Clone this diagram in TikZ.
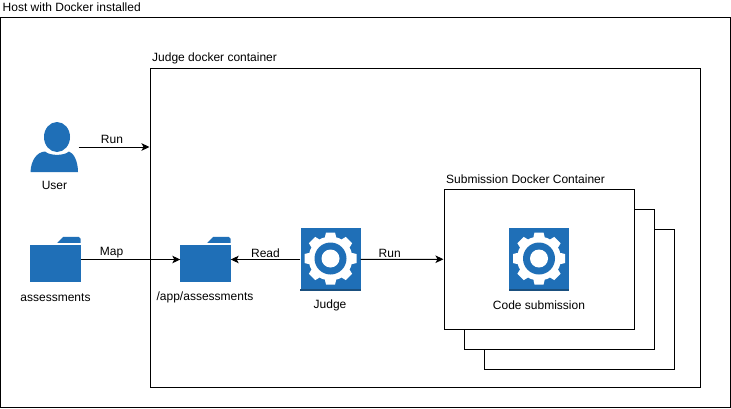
\documentclass[tikz,border=0pt]{standalone}
\usepackage{fontspec}
\setmainfont{Liberation Sans}
\usepackage{tikz}
\usetikzlibrary{arrows.meta,positioning}
\definecolor{iconblue}{HTML}{1F6FB7}
\definecolor{icondark}{HTML}{1A4F7E}
\tikzset
{
    hostbox/.style   = {rectangle, draw=black, line width=1pt, fill=white, inner sep=0pt},
    iconbox/.style   = {rectangle, inner sep=0pt, minimum width=50pt, minimum height=45pt},
    gearbox/.style   = {rectangle, fill=iconblue, inner sep=0pt, minimum width=60pt, minimum height=63pt},
    caption/.style   = {inner sep=0pt, font=\fontsize{12}{14}\selectfont},
    connector/.style = {-{Stealth[length=8pt, width=7.5pt, inset=2pt]}, line width=1pt}
}
% folder icon drawn around a named node
\newcommand{\foldericon}[1]
{
    \fill [iconblue] (#1.south west) rectangle ([yshift=-8pt]#1.north east);
    \fill [iconblue] ([xshift=27pt,yshift=-6pt]#1.north west) -- ([xshift=33pt]#1.north west)
        -- ([xshift=-2pt]#1.north east) -- ([yshift=-2pt]#1.north east) -- ([yshift=-6pt]#1.north east) -- cycle;
}
% gear drawn on a named node
\newcommand{\gearicon}[1]
{
    \fill [icondark] (#1.south west) rectangle ([yshift=2pt]#1.south east);
    \begin{scope}[shift={([yshift=1pt]#1.center)}]
        \foreach \ang in {0,45,...,315}
            \fill [white, rotate=\ang] (-5.5pt,0pt) -- (-5.5pt,-22pt) -- (-4.5pt,-26pt) -- (4.5pt,-26pt) -- (5.5pt,-22pt) -- (5.5pt,0pt) -- cycle;
        \fill [white] (0,0) circle (22pt);
        \fill [iconblue] (0,0) circle (16pt);
        \fill [white] (0,0) circle (9pt);
    \end{scope}
}
\begin{document}
\begin{tikzpicture}[x=1pt, y=-1pt]
    \useasboundingbox (0,0) rectangle (731,408);
    % boxes
    \node [hostbox, minimum width=729.5pt, minimum height=390pt] (hostmachine) at (365.25,212) {};
    \node [hostbox, minimum width=550pt, minimum height=319pt] (judgecontainer) at (425,227.5) {};
    \node [hostbox, minimum width=190pt, minimum height=140pt] (submissionC) at (579,299) {};
    \node [hostbox, minimum width=190pt, minimum height=140pt] (submissionB) at (559,279) {};
    \node [hostbox, minimum width=190pt, minimum height=140pt] (submissionA) at (539,259) {};
    % user
    \node [rectangle, inner sep=0pt, minimum width=48pt, minimum height=50pt] (user) at (54.5,147) {};
    \fill [iconblue] (57,137) ellipse (13pt and 15pt);
    \fill [iconblue] (30.5,172) .. controls (31,160) and (37,152) .. (45,151.5)
        .. controls (50,156) and (64,156) .. (69,151.5)
        .. controls (74,153) and (78,162) .. (78,172) -- cycle;
    % icons
    \node [iconbox] (assessments) at (55.5,259.5) {};
    \foldericon{assessments}
    \node [iconbox] (appassessments) at (205.5,259.5) {};
    \foldericon{appassessments}
    \node [gearbox] (judge) at (330.5,259.5) {};
    \gearicon{judge}
    \node [gearbox] (codesubmission) at (539,259.5) {};
    \gearicon{codesubmission}
    % captions
    \node [caption, anchor=west] (hostlabel) at (2.5,7) {Host with Docker installed};
    \node [caption, anchor=west] (judgelabel) at (152,58) {Judge docker container};
    \node [caption, anchor=west] (submissionlabel) at (446,179.5) {Submission Docker Container};
    \node [caption] (userlabel) at (54.5,185.5) {User};
    \node [caption] (assessmentslabel) at (55.5,297.5) {assessments};
    \node [caption] (applabel) at (205,297.5) {/app/assessments};
    \node [caption] (judgename) at (330,305) {Judge};
    \node [caption] (codelabel) at (539,305) {Code submission};
    % connectors
    \draw [connector] (user) -- (judgecontainer.west |- user) node [caption, pos=0.47, above=3pt] (runlabel) {Run};
    \draw [connector] (assessments) -- (appassessments) node [caption, pos=0.31, above=1pt] (maplabel) {Map};
    \draw [connector] (judge) -- (appassessments) node [caption, midway, above=1pt] (readlabel) {Read};
    \draw [connector] (judge) -- (submissionA) node [caption, pos=0.35, above=1pt] (startlabel) {Run};
\end{tikzpicture}
\end{document}
